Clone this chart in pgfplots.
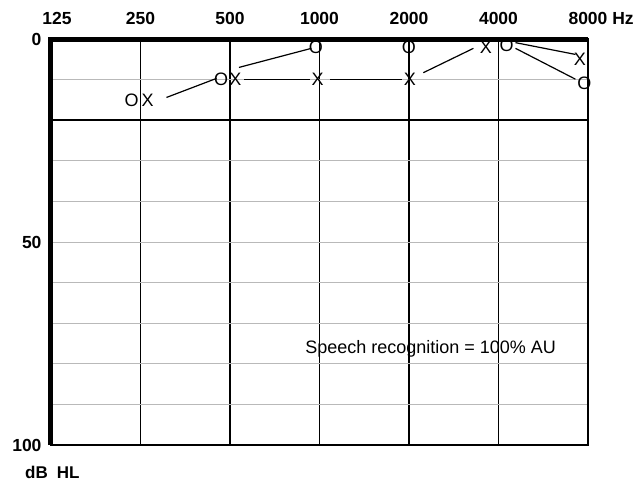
\documentclass[border=0pt]{standalone}
\usepackage{fontspec}
\setmainfont{Liberation Sans}
\usepackage{pgfplots}
\pgfplotsset{compat=1.18}
\begin{document}
\begin{tikzpicture}
\begin{axis}[
  at={(0,0)}, anchor=south west,
  scale only axis, width=537bp, height=406bp,
  xmin=0, xmax=6, ymin=0, ymax=100, y dir=reverse,
  xtick={0,1,2,3,4,5,6},
  xticklabels={\hspace*{12bp}125,250,500,1000,2000,4000,8000\rlap{ Hz}},
  xticklabel pos=right,
  ytick={0,50,100},
  /pgf/number format/assume math mode=true,
  minor ytick={10,20,...,90},
  yminorgrids, minor grid style={gray!55, line width=0.7bp},
  xmajorgrids, major grid style={black, line width=1.8bp},
  extra y ticks={20}, extra y tick labels={},
  extra y tick style={grid=major, major grid style={black, line width=2.4bp}},
  major tick length=0pt, minor tick length=0pt,
  tick style={draw=none},
  axis line style={line width=2.5bp},
  ticklabel style={font=\bfseries\fontsize{17.5bp}{20bp}\selectfont},
  yticklabel style={xshift=-6bp},
  xticklabel style={yshift=11bp},
  clip=false,
]
% line segments
\addplot[black, line width=1.2bp] coordinates {(1.29,14.4) (1.85,9.7)};
\addplot[black, line width=1.2bp] coordinates {(2.10,7.0) (2.91,2.3)};
\addplot[black, line width=1.2bp] coordinates {(2.16,10) (2.89,10)};
\addplot[black, line width=1.2bp] coordinates {(3.12,10) (3.92,10)};
\addplot[black, line width=1.2bp] coordinates {(4.16,8.3) (4.72,2.3)};
\addplot[black, line width=1.2bp] coordinates {(5.19,0.9) (5.86,3.8)};
\addplot[black, line width=1.2bp] coordinates {(5.19,2.3) (5.86,9.9)};
% right ear O
\addplot[only marks, mark=text, text mark={O}, text mark as node=true,
  text mark style={font=\fontsize{18bp}{20bp}\selectfont, inner sep=0pt}]
  coordinates {(0.90,15) (1.90,10) (2.96,2) (4.00,2) (5.09,1.5) (5.96,11)};
% left ear X
\addplot[only marks, mark=text, text mark={X}, text mark as node=true,
  text mark style={font=\fontsize{18bp}{20bp}\selectfont, inner sep=0pt}]
  coordinates {(1.08,15) (2.06,10) (2.98,10) (4.01,10) (4.86,2) (5.91,5)};
\draw[line width=5bp, line join=miter] (axis cs:0,100) -- (axis cs:0,0) -- (axis cs:6,0);
\node[anchor=west, font=\fontsize{18bp}{20bp}\selectfont, inner sep=0pt]
  at (axis cs:2.84,76.4) {Speech recognition = 100\% AU};
\end{axis}
\node[anchor=west, font=\bfseries\fontsize{17bp}{20bp}\selectfont, inner sep=0pt]
  at (-26bp,-27bp) {dB\hspace{9bp}HL};
\pgfresetboundingbox
\path[use as bounding box] (-51bp,-38bp) rectangle (587bp,445bp);
\end{tikzpicture}
\end{document}
